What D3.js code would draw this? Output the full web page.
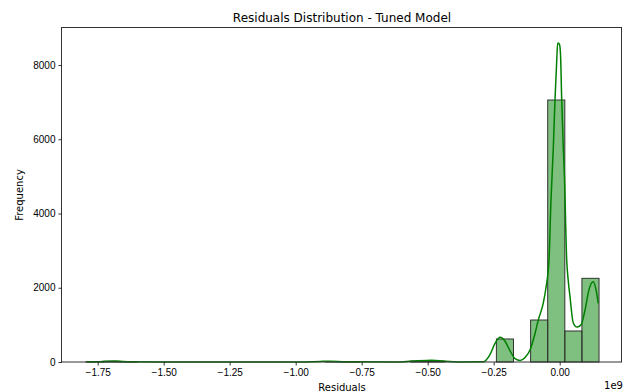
<!DOCTYPE html>
<html lang="en">
<head>
    <meta charset="UTF-8">
    <title>Residuals Distribution - Tuned Model</title>
    <script src="https://d3js.org/d3.v7.min.js"></script>
    <style>
        body {
            margin: 0;
            background: #fff;
        }

        svg {
            display: block;
            font-family: "DejaVu Sans", sans-serif;
        }

        .tick text {
            font-size: 10px;
            fill: #000;
        }

        .tick line,
        .domain {
            stroke: #333;
        }
    </style>
</head>
<body>
    <script>
        // histogram (30 bins between min and max residual, in units of 1e9)
        const binRange = [-1.795, 0.149];
        const binCounts = [4, 18, 3, 0, 0, 0, 0, 0, 0, 0, 0, 0, 0, 0, 9,
            4, 0, 0, 0, 30, 22, 0, 0, 0, 620, 0, 1131, 7057, 835, 2254];

        // kde curve (x in 1e9, y in counts)
        const kdeX = [-1.792, -1.741, -1.684, -1.627, -1.514, -0.98, -0.908, -0.870, -0.813,
            -0.605, -0.548, -0.484, -0.434, -0.378, -0.29, -0.264, -0.245, -0.226, -0.207,
            -0.188, -0.169, -0.150, -0.131, -0.112, -0.093, -0.081, -0.062, -0.052, -0.0405,
            -0.033, -0.0242, -0.0178, -0.012, -0.0076, -0.001, 0.003, 0.0076, 0.0136, 0.018,
            0.0265, 0.031, 0.039, 0.0515, 0.0655, 0.081, 0.096, 0.111, 0.127, 0.1375, 0.146];
        const kdeY = [5, 10, 25, 8, 3, 3, 15, 20, 8,
            3, 30, 50, 20, 3, 5, 200, 500, 665, 560,
            300, 90, 40, 120, 330, 780, 1130, 1590, 2000, 2750,
            4360, 5765, 7065, 8000, 8590, 8560, 8300, 7065, 5765, 5000,
            2750, 2300, 1760, 1050, 940, 1000, 1400, 1950, 2163, 1950, 1580];

        const xTicks = [-1.75, -1.5, -1.25, -1.0, -0.75, -0.5, -0.25, 0.0];
        const yTicks = [0, 2000, 4000, 6000, 8000];

        const width = 624;
        const height = 392;
        const margin = { top: 28, right: 2, bottom: 30, left: 62 };

        const svg = d3.select("body").append("svg")
            .attr("width", width)
            .attr("height", height);

        const x = d3.scaleLinear()
            .domain([-1.8852, 0.236])
            .range([margin.left, width - margin.right]);

        const y = d3.scaleLinear()
            .domain([0, 8997])
            .range([height - margin.bottom, margin.top]);

        const binW = (binRange[1] - binRange[0]) / binCounts.length;
        const bins = binCounts.map((c, i) => ({
            x0: binRange[0] + i * binW,
            x1: binRange[0] + (i + 1) * binW,
            count: c
        }));

        svg.append("g")
            .selectAll("rect")
            .data(bins.filter(d => d.count > 0))
            .enter().append("rect")
            .attr("x", d => x(d.x0))
            .attr("y", d => y(d.count))
            .attr("width", d => x(d.x1) - x(d.x0))
            .attr("height", d => y(0) - y(d.count))
            .attr("fill", "rgba(0,128,0,0.5)")
            .attr("stroke", "#333")
            .attr("stroke-width", 1);

        const kde = kdeX.map((v, i) => [v, kdeY[i]]);
        const line = d3.line()
            .x(d => x(d[0]))
            .y(d => y(d[1]))
            .curve(d3.curveMonotoneX);

        svg.append("path")
            .datum(kde)
            .attr("fill", "none")
            .attr("stroke", "#008000")
            .attr("stroke-width", 1.5)
            .attr("d", line);

        // axes
        const xAxis = svg.append("g")
            .attr("transform", `translate(0,${height - margin.bottom})`)
            .call(d3.axisBottom(x).tickValues(xTicks).tickFormat(d3.format(".2f"))
                .tickSize(3.5).tickPadding(3.5).tickSizeOuter(0));
        xAxis.select(".domain").remove();

        const yAxis = svg.append("g")
            .attr("transform", `translate(${margin.left},0)`)
            .call(d3.axisLeft(y).tickValues(yTicks).tickFormat(d3.format("d"))
                .tickSize(3.5).tickPadding(3).tickSizeOuter(0));
        yAxis.select(".domain").remove();

        // frame
        svg.append("rect")
            .attr("x", margin.left - 0.5)
            .attr("y", margin.top - 0.5)
            .attr("width", width - margin.right - margin.left)
            .attr("height", height - margin.bottom - margin.top + 0.5)
            .attr("fill", "none")
            .attr("stroke", "#333")
            .attr("stroke-width", 1);

        svg.append("text")
            .attr("x", (margin.left + width - margin.right) / 2)
            .attr("y", 21.5)
            .attr("text-anchor", "middle")
            .style("font-size", "12px")
            .text("Residuals Distribution - Tuned Model");

        svg.append("text")
            .attr("x", (margin.left + width - margin.right) / 2)
            .attr("y", 391)
            .attr("text-anchor", "middle")
            .style("font-size", "10px")
            .text("Residuals");

        svg.append("text")
            .attr("transform", `translate(23.3,${(margin.top + height - margin.bottom) / 2}) rotate(-90)`)
            .attr("text-anchor", "middle")
            .style("font-size", "10px")
            .text("Frequency");

        svg.append("text")
            .attr("x", 623)
            .attr("y", 389)
            .attr("text-anchor", "end")
            .style("font-size", "10px")
            .text("1e9");
    </script>
</body>
</html>
